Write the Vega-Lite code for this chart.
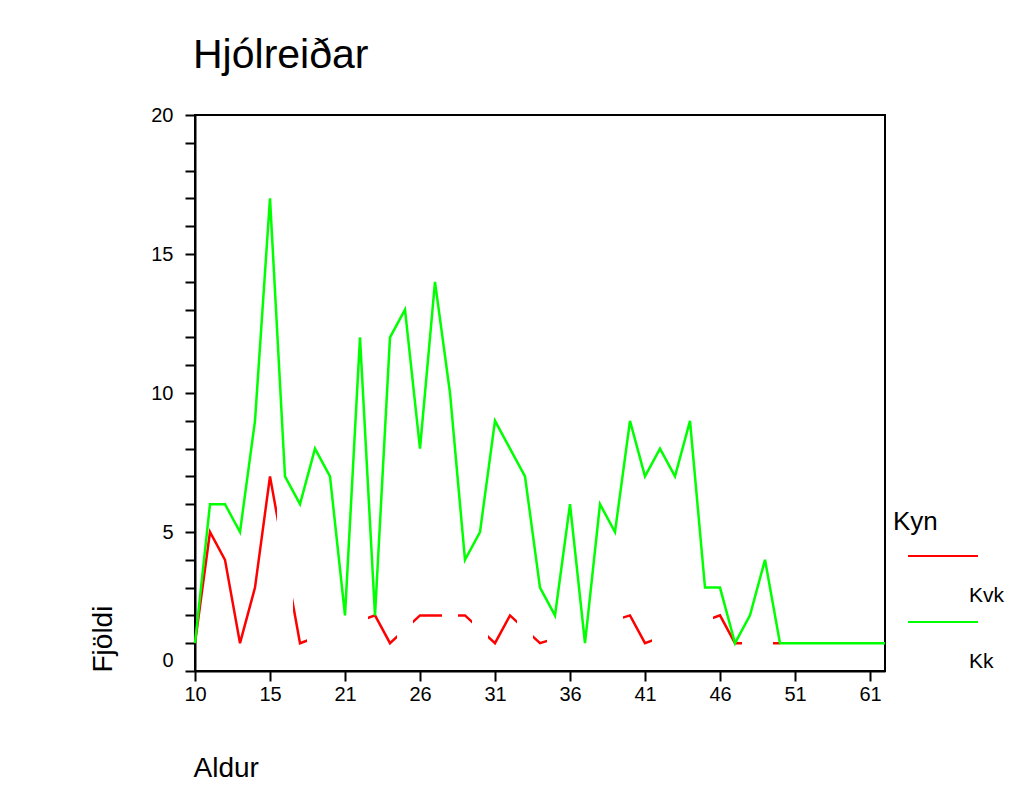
{
  "$schema": "https://vega.github.io/schema/vega-lite/v6.json",
  "width": 690,
  "height": 556,
  "autosize": "none",
  "padding": {"left": 195, "top": 115, "right": 145, "bottom": 125},
  "background": "white",
  "config": {
    "font": "Liberation Sans",
    "view": {"stroke": "black", "strokeWidth": 2},
    "axis": {"labelFont": "Liberation Sans", "titleFont": "Liberation Sans", "labelColor": "black", "titleColor": "black", "domainColor": "black", "tickColor": "black", "titleFontWeight": "normal", "grid": false, "domainWidth": 2, "tickWidth": 2, "labelOverlap": false}
  },
  "title": {"text": "Hjólreiðar", "anchor": "start", "frame": "group", "fontSize": 41, "fontWeight": "normal", "font": "Liberation Sans", "color": "black", "dx": -2, "dy": 24, "baseline": "alphabetic", "offset": 20},
  "data": {"values": [
    {"age": 10, "Kk": 1, "Kvk": 1},
    {"age": 11, "Kk": 6, "Kvk": 5},
    {"age": 12, "Kk": 6, "Kvk": 4},
    {"age": 13, "Kk": 5, "Kvk": 1},
    {"age": 14, "Kk": 9, "Kvk": 3},
    {"age": 15, "Kk": 17, "Kvk": 7},
    {"age": 16, "Kk": 7, "Kvk": null},
    {"age": 17, "Kk": 6, "Kvk": 1},
    {"age": 18, "Kk": 8, "Kvk": null},
    {"age": 19, "Kk": 7, "Kvk": null},
    {"age": 21, "Kk": 2, "Kvk": null},
    {"age": 22, "Kk": 12, "Kvk": null},
    {"age": 23, "Kk": 2, "Kvk": 2},
    {"age": 24, "Kk": 12, "Kvk": 1},
    {"age": 25, "Kk": 13, "Kvk": null},
    {"age": 26, "Kk": 8, "Kvk": 2},
    {"age": 27, "Kk": 14, "Kvk": 2},
    {"age": 28, "Kk": 10, "Kvk": null},
    {"age": 29, "Kk": 4, "Kvk": 2},
    {"age": 30, "Kk": 5, "Kvk": null},
    {"age": 31, "Kk": 9, "Kvk": 1},
    {"age": 32, "Kk": 8, "Kvk": 2},
    {"age": 33, "Kk": 7, "Kvk": null},
    {"age": 34, "Kk": 3, "Kvk": 1},
    {"age": 35, "Kk": 2, "Kvk": null},
    {"age": 36, "Kk": 6, "Kvk": null},
    {"age": 37, "Kk": 1, "Kvk": null},
    {"age": 38, "Kk": 6, "Kvk": null},
    {"age": 39, "Kk": 5, "Kvk": null},
    {"age": 40, "Kk": 9, "Kvk": 2},
    {"age": 41, "Kk": 7, "Kvk": 1},
    {"age": 42, "Kk": 8, "Kvk": null},
    {"age": 43, "Kk": 7, "Kvk": null},
    {"age": 44, "Kk": 9, "Kvk": null},
    {"age": 45, "Kk": 3, "Kvk": null},
    {"age": 46, "Kk": 3, "Kvk": 2},
    {"age": 47, "Kk": 1, "Kvk": 1},
    {"age": 48, "Kk": 2, "Kvk": null},
    {"age": 49, "Kk": 4, "Kvk": null},
    {"age": 50, "Kk": 1, "Kvk": 1},
    {"age": 51, "Kk": 1, "Kvk": null},
    {"age": 52, "Kk": 1, "Kvk": null},
    {"age": 54, "Kk": 1, "Kvk": null},
    {"age": 56, "Kk": 1, "Kvk": null},
    {"age": 58, "Kk": 1, "Kvk": null},
    {"age": 61, "Kk": 1, "Kvk": null},
    {"age": 63, "Kk": 1, "Kvk": null}
  ]},
  "encoding": {
    "x": {"field": "age", "type": "ordinal", "scale": {"type": "point", "padding": 0},
      "axis": {"title": "Aldur", "values": [10, 15, 21, 26, 31, 36, 41, 46, 51, 61], "labelAngle": 0, "labelFontSize": 20, "labelPadding": 3, "tickSize": 10, "titleFontSize": 28, "titleAlign": "left", "titleBaseline": "alphabetic", "titleAnchor": "start", "titleX": -2, "titleY": 105}}
  },
  "layer": [
    {
      "transform": [{"fold": ["Kvk", "Kk"], "as": ["Kyn", "Fjoldi"]}, {"filter": "datum.Kyn == 'Kvk' && datum.Fjoldi != null"}],
      "mark": {"type": "line", "strokeWidth": 2.5},
      "encoding": {
        "y": {"field": "Fjoldi", "type": "quantitative", "scale": {"domain": [0, 20], "nice": false},
          "axis": {"title": "Fjöldi", "values": [0,1,2,3,4,5,6,7,8,9,10,11,12,13,14,15,16,17,18,19,20], "labelExpr": "datum.value % 5 == 0 ? datum.label : ''", "labelOverlap": false, "labelFontSize": 20, "labelPadding": 12, "tickSize": 10, "labelOffset": {"condition": {"test": "datum.value == 0", "value": -11}, "value": 0}, "titleFontSize": 28, "titleAngle": 270, "titleAlign": "left", "titleBaseline": "alphabetic", "titleX": -84, "titleY": 557}},
        "color": {"field": "Kyn", "type": "nominal", "scale": {"domain": ["Kvk", "Kk"], "range": ["#ff0000", "#00ff00"]},
          "legend": {"orient": "none", "legendX": 698, "legendY": 394, "title": "Kyn", "titleFontSize": 26, "titleFont": "Liberation Sans", "titleFontWeight": "normal", "titleColor": "black", "titlePadding": 25, "symbolType": "M-1,-1.143L1,-1.143", "symbolSize": 4900, "symbolStrokeWidth": 2, "symbolOffset": 14, "labelFontSize": 21, "labelFont": "Liberation Sans", "labelColor": "black", "labelBaseline": "middle", "labelOffset": -10, "rowPadding": 11}}
      }
    },
    {
      "transform": [{"filter": "datum.Kvk == null && datum.age < 50"}],
      "mark": {"type": "bar", "color": "white", "width": 16, "strokeWidth": 0},
      "encoding": {
        "y": {"datum": 0.5, "type": "quantitative", "scale": {"domain": [0, 20], "nice": false},
          "axis": {"title": "Fjöldi", "values": [0,1,2,3,4,5,6,7,8,9,10,11,12,13,14,15,16,17,18,19,20], "labelExpr": "datum.value % 5 == 0 ? datum.label : ''", "labelOverlap": false, "labelFontSize": 20, "labelPadding": 12, "tickSize": 10, "labelOffset": {"condition": {"test": "datum.value == 0", "value": -11}, "value": 0}, "titleFontSize": 28, "titleAngle": 270, "titleAlign": "left", "titleBaseline": "alphabetic", "titleX": -84, "titleY": 557}},
        "y2": {"datum": 8}
      }
    },
    {
      "transform": [{"fold": ["Kvk", "Kk"], "as": ["Kyn", "Fjoldi"]}, {"filter": "datum.Kyn == 'Kk'"}],
      "mark": {"type": "line", "strokeWidth": 2.5},
      "encoding": {
        "y": {"field": "Fjoldi", "type": "quantitative", "scale": {"domain": [0, 20], "nice": false},
          "axis": {"title": "Fjöldi", "values": [0,1,2,3,4,5,6,7,8,9,10,11,12,13,14,15,16,17,18,19,20], "labelExpr": "datum.value % 5 == 0 ? datum.label : ''", "labelOverlap": false, "labelFontSize": 20, "labelPadding": 12, "tickSize": 10, "labelOffset": {"condition": {"test": "datum.value == 0", "value": -11}, "value": 0}, "titleFontSize": 28, "titleAngle": 270, "titleAlign": "left", "titleBaseline": "alphabetic", "titleX": -84, "titleY": 557}},
        "color": {"field": "Kyn", "type": "nominal", "scale": {"domain": ["Kvk", "Kk"], "range": ["#ff0000", "#00ff00"]}}
      }
    }
  ]
}
